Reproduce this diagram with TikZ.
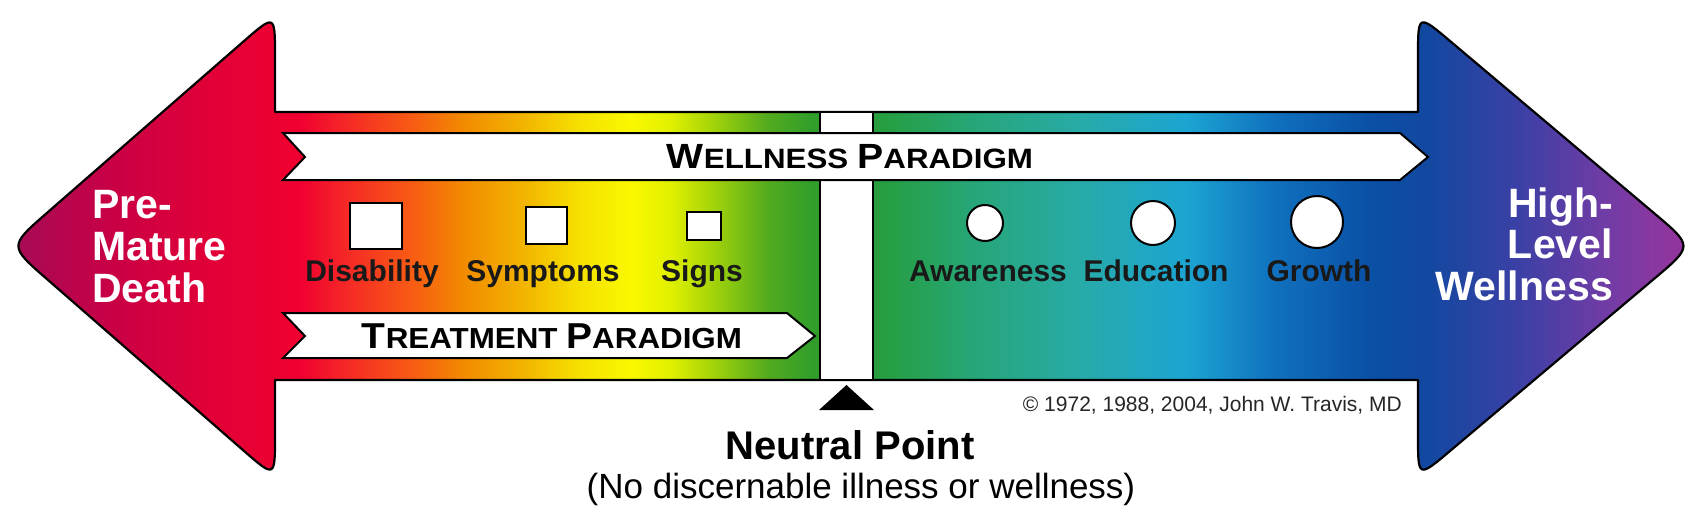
\documentclass[tikz,border=0pt]{standalone}
\usepackage{fontspec}
\setmainfont{Liberation Sans}
\usepackage{graphicx}
\usetikzlibrary{calc}
\definecolor{k01}{RGB}{160,10,85}
\definecolor{k02}{RGB}{168,10,85}
\definecolor{k03}{RGB}{200,0,70}
\definecolor{k04}{RGB}{225,0,55}
\definecolor{k05}{RGB}{240,0,48}
\definecolor{k06}{RGB}{245,35,40}
\definecolor{k07}{RGB}{248,90,20}
\definecolor{k08}{RGB}{242,140,0}
\definecolor{k09}{RGB}{242,178,0}
\definecolor{k10}{RGB}{245,225,0}
\definecolor{k11}{RGB}{250,248,0}
\definecolor{k12}{RGB}{225,240,0}
\definecolor{k13}{RGB}{160,210,10}
\definecolor{k14}{RGB}{85,172,30}
\definecolor{k15}{RGB}{50,158,42}
\definecolor{k16}{RGB}{38,158,62}
\definecolor{k17}{RGB}{38,166,118}
\definecolor{k18}{RGB}{40,170,168}
\definecolor{k19}{RGB}{28,165,210}
\definecolor{k20}{RGB}{16,112,190}
\definecolor{k21}{RGB}{10,80,165}
\definecolor{k22}{RGB}{18,72,160}
\definecolor{k23}{RGB}{60,64,165}
\definecolor{k24}{RGB}{110,60,165}
\definecolor{k25}{RGB}{140,55,160}
\definecolor{k26}{RGB}{150,50,155}
\pgfdeclarehorizontalshading{spectrum}{100bp}{color(0bp)=(k01); color(25bp)=(k01); color(25.33bp)=(k02); color(28bp)=(k03); color(30.97bp)=(k04); color(33.64bp)=(k05); color(34.83bp)=(k06); color(36.91bp)=(k07); color(38.54bp)=(k08); color(40.17bp)=(k09); color(41.95bp)=(k10); color(43.44bp)=(k11); color(44.63bp)=(k12); color(45.96bp)=(k13); color(47.45bp)=(k14); color(48.78bp)=(k15); color(50.86bp)=(k16); color(53.53bp)=(k17); color(56.8bp)=(k18); color(59.92bp)=(k19); color(62.59bp)=(k20); color(65.41bp)=(k21); color(67.07bp)=(k22); color(69.86bp)=(k23); color(72.24bp)=(k24); color(74.02bp)=(k25); color(75bp)=(k26); color(100bp)=(k26)}
\newcommand{\scw}[3]{{\fontsize{#3}{#3}\selectfont #1}{\fontsize{\numexpr #3*8/10\relax}{#3}\selectfont #2}}
\begin{document}
\begin{tikzpicture}[x=1pt,y=-1pt,
  outl/.style={line width=2.2pt, line join=round},
  wbox/.style={draw=black, fill=white, line width=2pt, inner sep=0pt},
  lbl/.style={anchor=base, inner sep=0pt, font=\fontsize{30}{30}\selectfont\bfseries, text=black!90},
  head/.style={inner sep=0pt, text=white, font=\fontsize{41}{41}\selectfont\bfseries}]
\useasboundingbox (0,0) rectangle (1701,523);
\fill[white] (0,0) rectangle (1701,523);
% main double arrow
\coordinate (L1) at (275,112);
\coordinate (L2) at (275,14);
\coordinate (LT) at (9,246);
\coordinate (L3) at (275,478);
\coordinate (L4) at (275,380);
\coordinate (R1) at (1418,112);
\coordinate (R2) at (1418,14);
\coordinate (RT) at (1693,246);
\coordinate (R3) at (1418,478);
\coordinate (R4) at (1418,380);
\def\rd{42pt}
\def\rt{50pt}
\shadedraw[shading=spectrum, outl]
  (L1) -- (R1) -- ($(R2)!\rd!(R1)$) .. controls (R2) .. ($(R2)!\rd!(RT)$)
  -- ($(RT)!\rt!(R2)$) .. controls (RT) .. ($(RT)!\rt!(R3)$)
  -- ($(R3)!\rd!(RT)$) .. controls (R3) .. ($(R3)!\rd!(R4)$)
  -- (R4) -- (L4) -- ($(L3)!\rd!(L4)$) .. controls (L3) .. ($(L3)!\rd!(LT)$)
  -- ($(LT)!\rt!(L3)$) .. controls (LT) .. ($(LT)!\rt!(L2)$)
  -- ($(L2)!\rd!(LT)$) .. controls (L2) .. ($(L2)!\rd!(L1)$) -- cycle;
% neutral bar
\filldraw[fill=white, draw=black, line width=2pt] (820,112) rectangle (873,380);
\fill[black] (819,410) -- (846.5,385) -- (874,410) -- cycle;
% banners
\filldraw[fill=white, draw=black, line width=2pt, line join=miter]
  (283,133) -- (1400,133) -- (1428,157) -- (1400,180) -- (283,180) -- (305,157) -- cycle;
\filldraw[fill=white, draw=black, line width=2pt, line join=miter]
  (283,313) -- (787,313) -- (815,336) -- (787,358) -- (283,358) -- (305,336) -- cycle;
\node[anchor=base, inner sep=0pt] (wp) at (850,168)
  {\resizebox{366pt}{\height}{\bfseries\scw{W}{ELLNESS}{35}\hspace{8pt}\scw{P}{ARADIGM}{35}}};
\node[anchor=base, inner sep=0pt] (tp) at (552,348)
  {\resizebox{380pt}{\height}{\bfseries\scw{T}{REATMENT}{36}\hspace{8pt}\scw{P}{ARADIGM}{36}}};
% markers
\node[wbox, minimum width=52pt, minimum height=46pt] (bdis) at (376,226) {};
\node[wbox, minimum width=41pt, minimum height=37pt] (bsym) at (546.5,225.5) {};
\node[wbox, minimum width=34pt, minimum height=28pt] (bsig) at (704,226) {};
\node[wbox, circle, minimum size=36pt] (caw) at (985,223) {};
\node[wbox, circle, minimum size=44pt] (ced) at (1153,223) {};
\node[wbox, circle, minimum size=52pt] (cgr) at (1317,222) {};
\node[lbl] (tdis) at (372,281) {Disability};
\node[lbl] (tsym) at (543,281) {Symptoms};
\node[lbl] (tsig) at (702,281) {Signs};
\node[lbl] (taw) at (988,281) {Awareness};
\node[lbl] (ted) at (1156,281) {Education};
\node[lbl] (tgr) at (1319,281) {Growth};
% head labels
\node[head, anchor=base west] (pre) at (92,218) {Pre-};
\node[head, anchor=base west] (mat) at (92,260) {Mature};
\node[head, anchor=base west] (dea) at (92,302) {Death};
\node[head, anchor=base east] (hig) at (1613,217) {High-};
\node[head, anchor=base east] (lev) at (1613,258) {Level};
\node[head, anchor=base east] (wel) at (1613,300) {Wellness};
% bottom texts
\node[anchor=base, inner sep=0pt, font=\fontsize{40}{40}\selectfont\bfseries] (np) at (850,459) {Neutral Point};
\node[anchor=base, inner sep=0pt, font=\fontsize{35}{35}\selectfont] (nd) at (861,498) {(No discernable illness or wellness)};
\node[anchor=base east, inner sep=0pt, font=\fontsize{21}{21}\selectfont, text=black!85] (cp) at (1402,411) {\textcopyright{} 1972, 1988, 2004, John W. Travis, MD};
\end{tikzpicture}
\end{document}
